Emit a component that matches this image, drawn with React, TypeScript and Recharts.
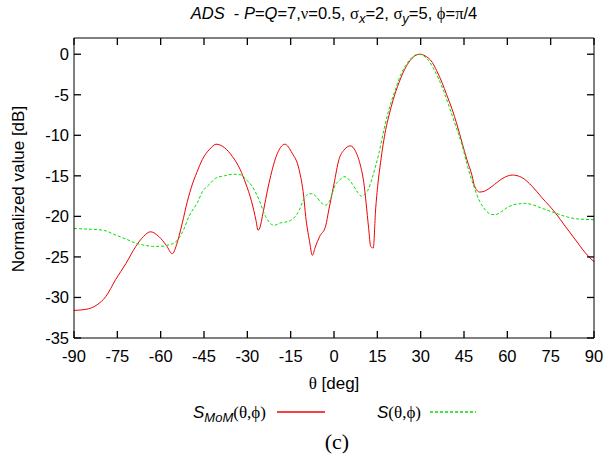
import { Customized, Line, LineChart, XAxis, YAxis } from "recharts"

// theta axis ticks and dB axis ticks
const thetaTicks = [-90, -75, -60, -45, -30, -15, 0, 15, 30, 45, 60, 75, 90]
const dbTicks = [-35, -30, -25, -20, -15, -10, -5, 0]

// S_MoM(theta, phi)
const momTheta = [
  -90, -85, -82, -79, -75.6, -72, -68.6, -66, -63.5, -60.6, -58, -56, -54.5, -53.7, -52.5, -50.8,
  -49, -47.5, -45.6, -43, -40.8, -38, -35.2, -32.5, -30.6, -28.5, -27, -26.3, -25.5, -24.8, -22.5,
  -20, -17, -14.5, -12.1, -10.5, -9.8, -8.5, -7.5, -6.5, -5, -2.9, -1.8, 0, 1.7, 3.5, 5.7, 7.5, 9.2,
  10.3, 11.1, 12, 12.7, 13.6, 14.4, 15.2, 16.1, 17.9, 19, 20.5, 22.5, 24, 25.9, 28, 29.8, 31.5, 34,
  35.5, 37.4, 39, 40.9, 42.5, 44.4, 46, 47.8, 48.6, 50.4, 52, 54.7, 58, 61.7, 65, 68.6, 72, 76.7,
  80, 83.6, 87, 90,
]
const momDb = [
  -31.6, -31.4, -30.9, -29.9, -27.8, -25.8, -23.7, -22.5, -21.9, -22.5, -23.6, -24.6, -23.5, -22.5,
  -20.8, -18.2, -16.0, -14.6, -13.0, -11.7, -11.1, -11.5, -12.6, -14.2, -15.9, -18.2, -20.5, -21.7,
  -21.2, -20.0, -15.9, -12.6, -11.1, -12.2, -14.2, -17.5, -20.0, -23.0, -24.8, -23.8, -22.5, -21.2,
  -19.2, -16.0, -13.0, -11.8, -11.3, -12.0, -13.8, -15.8, -18.3, -21.5, -23.7, -23.9, -19.2, -16.0,
  -13.4, -9.3, -7.6, -5.6, -3.5, -2.2, -1.0, -0.2, 0, -0.2, -1.0, -2.0, -3.5, -5.0, -6.8, -8.6,
  -11.0, -13.0, -15.0, -16.2, -17.0, -16.9, -16.3, -15.4, -14.9, -15.2, -16.3, -17.7, -19.6, -21.2,
  -22.9, -24.5, -25.6,
]

// S(theta, phi)
const approxTheta = [
  -90, -84, -80, -75.6, -72, -68.6, -65, -62.9, -60, -57.1, -55, -53.7, -52, -50.2, -47.3, -45.6,
  -43, -41, -38, -35.2, -32, -30.6, -28.5, -26, -23.7, -20.8, -18.5, -16.7, -13.9, -12, -11, -9.5,
  -7.9, -6, -4.5, -2.9, -1.8, 0.5, 1.7, 3.8, 5.5, 6.9, 8.3, 9.5, 10.8, 12.1, 13.2, 14.4, 15.5, 17.3,
  18.5, 21.3, 23, 24.8, 27, 29.2, 31, 32.8, 34.5, 36.3, 38, 39.8, 42, 44.4, 46, 48.4, 50.5, 52.4,
  54, 55.7, 58, 60.5, 63, 66.3, 69, 72, 76.7, 80, 84, 90,
]
const approxDb = [
  -21.5, -21.6, -21.7, -22.3, -22.8, -23.3, -23.6, -23.7, -23.7, -23.5, -23.2, -22.7, -21.6, -20.0,
  -18.3, -17.0, -16.0, -15.3, -15.0, -14.8, -14.9, -15.4, -16.2, -17.9, -20.0, -21.1, -20.8, -20.7,
  -20.2, -19.2, -18.3, -17.4, -17.2, -17.6, -18.3, -18.6, -18.3, -16.1, -15.6, -15.1, -15.6, -16.3,
  -17.1, -17.5, -17.2, -16.5, -15.3, -13.8, -12.3, -9.3, -7.5, -4.3, -2.6, -1.4, -0.4, 0, -0.2,
  -0.8, -1.8, -3.1, -4.6, -6.4, -8.7, -11.3, -13.5, -16.3, -18.2, -19.2, -19.7, -19.8, -19.4, -18.8,
  -18.5, -18.4, -18.6, -19.0, -19.6, -20.0, -20.3, -20.4,
]

const momData = momTheta.map((theta, i) => ({ theta, db: momDb[i] }))
const approxData = approxTheta.map((theta, i) => ({ theta, db: approxDb[i] }))

const sans = "'Liberation Sans', Arial, Helvetica, sans-serif"
const serif = "'Liberation Serif', 'DejaVu Serif', 'Times New Roman', serif"
const momColor = "#f00000"
const approxColor = "#00e000"

// gnuplot style: tick marks point into the plot box on all four sides
const BottomTick = ({ x, y, payload }: any) => (
  <g>
    <line x1={x} y1={y} x2={x} y2={y - 7} stroke="#000" strokeWidth={1.3} />
    <text x={x} y={y + 24} textAnchor="middle" fill="#000" fontSize={16.5} fontFamily={sans}>
      {payload.value}
    </text>
  </g>
)

const TopTick = ({ x, y }: any) => (
  <g>
    <line x1={x} y1={y} x2={x} y2={y + 7} stroke="#000" strokeWidth={1.3} />
  </g>
)

const LeftTick = ({ x, y, payload }: any) => (
  <g>
    <line x1={x} y1={y} x2={x + 7} y2={y} stroke="#000" strokeWidth={1.3} />
    <text x={x - 5} y={y + 6} textAnchor="end" fill="#000" fontSize={16.5} fontFamily={sans}>
      {payload.value}
    </text>
  </g>
)

const RightTick = ({ x, y }: any) => (
  <g>
    <line x1={x} y1={y} x2={x - 7} y2={y} stroke="#000" strokeWidth={1.3} />
  </g>
)

// title, axis titles, legend and panel label, drawn inside the chart svg
const Annotations = () => (
  <g fill="#000" fontFamily={sans}>
    <text x={334} y={19} textAnchor="middle" fontSize={16.5}>
      <tspan fontStyle="italic">ADS</tspan>
      <tspan>{"\u00a0 - "}</tspan>
      <tspan fontStyle="italic">P</tspan>
      <tspan>=</tspan>
      <tspan fontStyle="italic">Q</tspan>
      <tspan>=7,</tspan>
      <tspan fontFamily={serif}>ν</tspan>
      <tspan>=0.5, </tspan>
      <tspan fontFamily={serif}>σ</tspan>
      <tspan dy={4} fontSize={13} fontStyle="italic">x</tspan>
      <tspan dy={-4}>=2, </tspan>
      <tspan fontFamily={serif}>σ</tspan>
      <tspan dy={4} fontSize={13} fontStyle="italic">y</tspan>
      <tspan dy={-4}>=5, </tspan>
      <tspan fontFamily={serif}>ϕ</tspan>
      <tspan>=</tspan>
      <tspan fontFamily={serif}>π</tspan>
      <tspan>/4</tspan>
    </text>

    <text transform="rotate(-90)" x={-189} y={24} textAnchor="middle" fontSize={17}>
      Normalized value [dB]
    </text>

    <text x={334} y={389} textAnchor="middle" fontSize={17}>
      <tspan fontFamily={serif}>θ</tspan>
      <tspan> [deg]</tspan>
    </text>

    <text x={193} y={418} fontSize={17}>
      <tspan fontStyle="italic">S</tspan>
      <tspan dy={4} fontSize={13} fontStyle="italic">MoM</tspan>
      <tspan dy={-4} fontFamily={serif}>(θ,ϕ)</tspan>
    </text>
    <line x1={277} y1={412} x2={325} y2={412} stroke={momColor} strokeWidth={1.5} />

    <text x={377} y={418} fontSize={17}>
      <tspan fontStyle="italic">S</tspan>
      <tspan fontFamily={serif}>(θ,ϕ)</tspan>
    </text>
    <line x1={430} y1={412} x2={476} y2={412} stroke={approxColor} strokeWidth={1.5} strokeDasharray="3 2" />

    <text x={337} y={449} textAnchor="middle" fontSize={22} fontFamily={serif}>
      (c)
    </text>
  </g>
)

export default function App() {
  return (
    <div style={{ position: "absolute", left: 0, top: 0, width: 608, height: 459, background: "#fff" }}>
      <LineChart width={608} height={459} margin={{ top: 37, right: 13, bottom: 91, left: 24 }}>
        <XAxis
          xAxisId="b"
          type="number"
          dataKey="theta"
          domain={[-90, 90]}
          ticks={thetaTicks}
          interval={0}
          height={30}
          stroke="#000"
          tickSize={0}
          tickMargin={0}
          tickLine={false}
          tick={BottomTick}
        />
        <XAxis
          xAxisId="t"
          orientation="top"
          type="number"
          dataKey="theta"
          domain={[-90, 90]}
          ticks={thetaTicks}
          interval={0}
          height={1}
          stroke="#000"
          tickSize={0}
          tickMargin={0}
          tickLine={false}
          tick={TopTick}
        />
        <YAxis
          yAxisId="l"
          type="number"
          domain={[-35, 2]}
          ticks={dbTicks}
          interval={0}
          width={50}
          stroke="#000"
          tickSize={0}
          tickMargin={0}
          tickLine={false}
          tick={LeftTick}
        />
        <YAxis
          yAxisId="r"
          orientation="right"
          type="number"
          domain={[-35, 2]}
          ticks={dbTicks}
          interval={0}
          width={1}
          stroke="#000"
          tickSize={0}
          tickMargin={0}
          tickLine={false}
          tick={RightTick}
        />
        <Line
          xAxisId="b"
          yAxisId="l"
          data={momData}
          dataKey="db"
          type="monotone"
          stroke={momColor}
          dot={false}
          isAnimationActive={false}
        />
        {/* same domains on the mirrored top/right axes */}
        <Line
          xAxisId="t"
          yAxisId="r"
          data={approxData}
          dataKey="db"
          type="monotone"
          stroke={approxColor}
          strokeDasharray="3 2"
          dot={false}
          isAnimationActive={false}
        />
        <Customized component={Annotations} />
      </LineChart>
    </div>
  )
}
